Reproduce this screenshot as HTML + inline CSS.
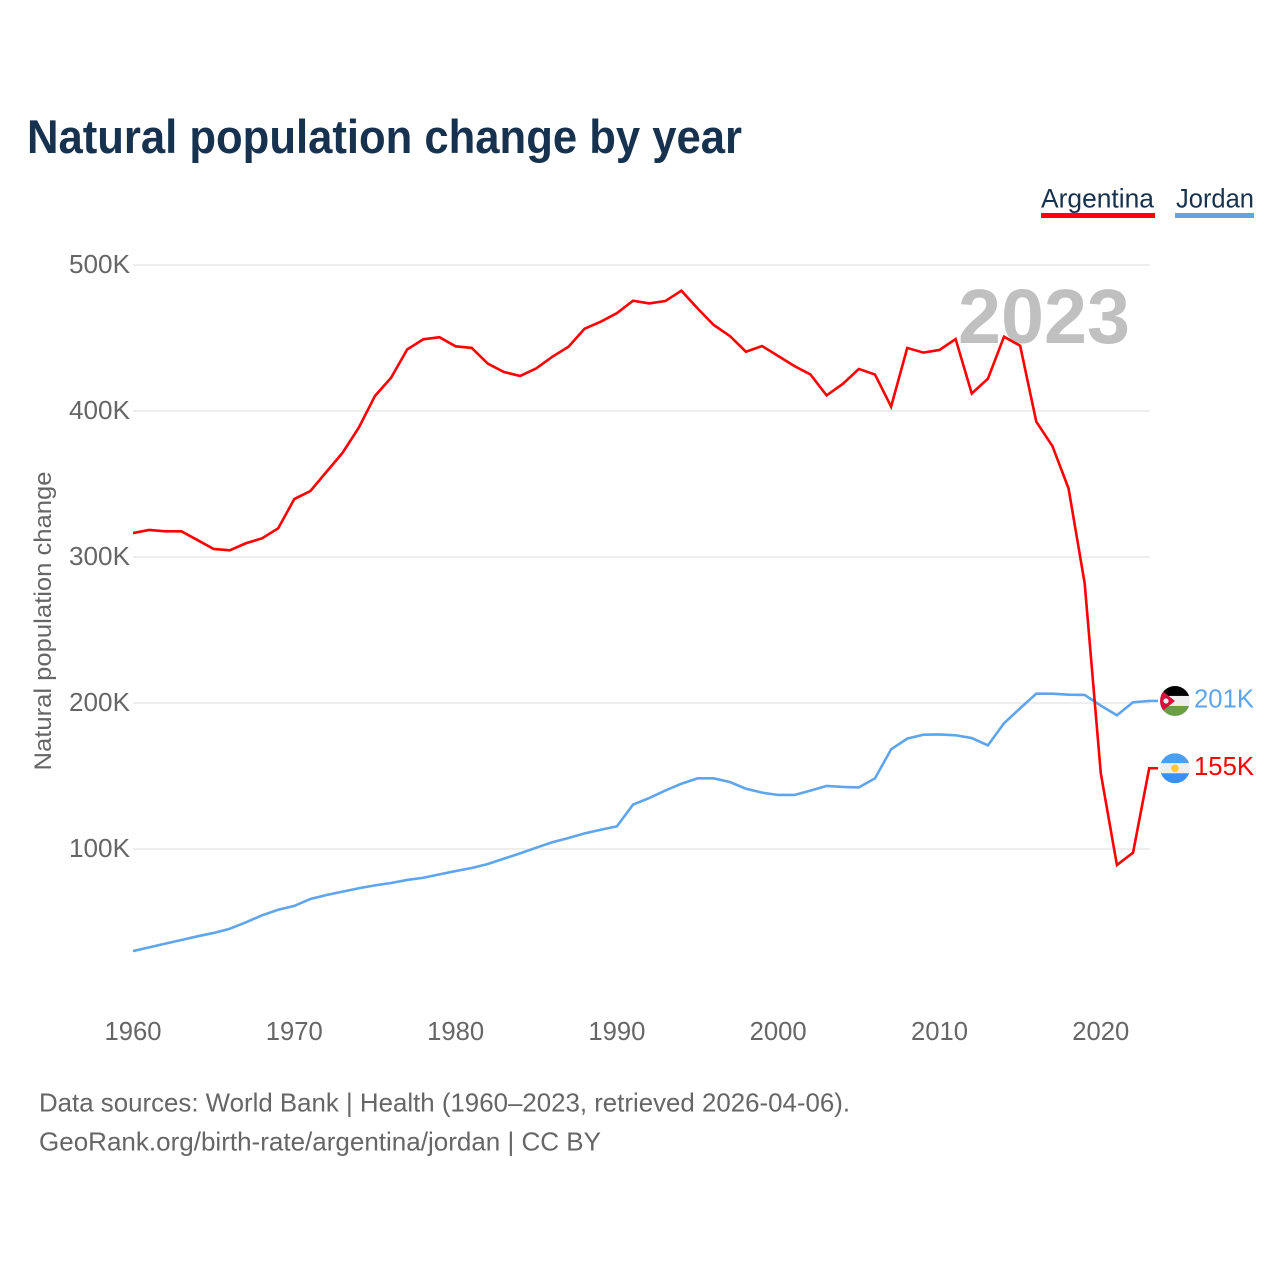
<!DOCTYPE html>
<html lang="en">
<head>
<meta charset="utf-8">
<title>Natural population change by year</title>
<style>
html,body{margin:0;padding:0;background:#fff;width:1280px;height:1280px;overflow:hidden}
svg{display:block}
text{font-family:"Liberation Sans",sans-serif}
</style>
</head>
<body>
<svg id="chart" xmlns="http://www.w3.org/2000/svg" width="1280" height="1280" viewBox="0 0 1280 1280">
  <rect width="1280" height="1280" fill="#ffffff"/>
  <text x="27" y="153" font-size="47" font-weight="700" fill="#17324f" textLength="715" lengthAdjust="spacingAndGlyphs">Natural population change by year</text>

  <g>
    <text x="1041" y="207.5" font-size="26.5" fill="#17324f" textLength="113" lengthAdjust="spacingAndGlyphs">Argentina</text>
    <rect x="1041" y="213" width="114" height="5" fill="#ff0000"/>
  </g>
  <g>
    <text x="1176" y="207.5" font-size="26.5" fill="#17324f" textLength="78" lengthAdjust="spacingAndGlyphs">Jordan</text>
    <rect x="1175" y="213" width="79" height="5" fill="#5fa5ec"/>
  </g>

  <text transform="translate(51 770.5) rotate(-90)" font-size="24.5" fill="#666666" textLength="299" lengthAdjust="spacingAndGlyphs">Natural population change</text>

  <g id="grid"></g>
  <g id="yticks"></g>
  <g id="xticks"></g>

  <text x="1130" y="343" font-size="77" font-weight="700" fill="#c0c0c0" text-anchor="end" textLength="172" lengthAdjust="spacingAndGlyphs">2023</text>

  <path id="line-jordan" fill="none" stroke="#5fa5ec" stroke-width="2.6" stroke-linejoin="miter"/>
  <path id="line-argentina" fill="none" stroke="#ff0000" stroke-width="2.6" stroke-linejoin="miter"/>

  <defs>
    <clipPath id="flag-clip"><circle cx="0" cy="0" r="15"/></clipPath>
  </defs>

  <g id="flag-jordan">
    <g clip-path="url(#flag-clip)">
      <rect x="-15" y="-15" width="30" height="10" fill="#000000"/>
      <rect x="-15" y="-5" width="30" height="10" fill="#eeeeee"/>
      <rect x="-15" y="5" width="30" height="10" fill="#6a9e45"/>
      <polygon points="-15,-12 0,0 -15,12" fill="#d80e3c"/>
      <circle cx="-9" cy="0" r="2.6" fill="#f4f4f4"/>
    </g>
  </g>
  <g id="flag-argentina">
    <g clip-path="url(#flag-clip)">
      <rect x="-15" y="-15" width="30" height="10" fill="#4b9ff2"/>
      <rect x="-15" y="-5" width="30" height="10" fill="#eeeeee"/>
      <rect x="-15" y="5" width="30" height="10" fill="#3a90f2"/>
      <circle cx="0" cy="0" r="3.8" fill="#fcc92f"/>
    </g>
  </g>
  <text id="value-jordan" x="1254" font-size="26" fill="#5fa5ec" text-anchor="end" textLength="60" lengthAdjust="spacingAndGlyphs"></text>
  <text id="value-argentina" x="1254" font-size="26" fill="#ff0000" text-anchor="end" textLength="60" lengthAdjust="spacingAndGlyphs"></text>

  <text x="39" y="1111.5" font-size="26" fill="#666666" textLength="811" lengthAdjust="spacingAndGlyphs">Data sources: World Bank | Health (1960–2023, retrieved 2026-04-06).</text>
  <a><text x="39" y="1150.5" font-size="26" fill="#666666" textLength="562" lengthAdjust="spacingAndGlyphs">GeoRank.org/birth-rate/argentina/jordan | CC BY</text></a>
</svg>

<script>
const years = [1960,1961,1962,1963,1964,1965,1966,1967,1968,1969,1970,1971,1972,1973,1974,1975,1976,1977,1978,1979,1980,1981,1982,1983,1984,1985,1986,1987,1988,1989,1990,1991,1992,1993,1994,1995,1996,1997,1998,1999,2000,2001,2002,2003,2004,2005,2006,2007,2008,2009,2010,2011,2012,2013,2014,2015,2016,2017,2018,2019,2020,2021,2022,2023];
const argentinaValues = [316.4,318.5,317.6,317.6,311.6,305.5,304.6,309.4,312.8,319.6,339.7,345.2,358.4,371.5,388.6,410.3,422.8,442.2,449.1,450.5,444.3,443.2,432.4,426.7,424,429.2,437.2,444,456.4,461.2,467,475.5,473.7,475.3,482.4,470.3,458.9,451.4,440.6,444.5,437.7,430.8,425,410.7,418.5,428.8,425,403,443.2,440,441.8,449.3,412,422.1,450.9,444.7,392.7,376,347,282,151.8,89,97.5,155.3];
const jordanValues = [30.1,32.6,35.2,37.7,40.2,42.5,45.4,49.8,54.6,58.4,61,65.8,68.5,70.8,73.1,75.1,76.7,78.8,80.3,82.6,84.9,87,89.7,93.4,97,100.9,104.6,107.5,110.7,113.2,115.5,130.4,134.9,140,144.7,148.4,148.4,145.9,141.3,138.6,137,137,140,143.2,142.5,142.2,148.4,168.3,175.6,178.3,178.5,177.9,176,171,186.1,196.4,206.4,206.4,205.7,205.5,198.2,191.6,200.5,201.4];
const yTickValues = [100,200,300,400,500];
const yTickLabels = ["100K","200K","300K","400K","500K"];
const xTickValues = [1960,1970,1980,1990,2000,2010,2020];
const xTickLabels = ["1960","1970","1980","1990","2000","2010","2020"];

const SVGNS = "http://www.w3.org/2000/svg";
function xScale(year) { return 133 + (year - 1960) * 16.13; }
function yScale(value) { return 995 - value * 1.46; }

const grid = document.getElementById("grid");
const yticks = document.getElementById("yticks");
const xticks = document.getElementById("xticks");

yTickValues.forEach(function (v, i) {
  const line = document.createElementNS(SVGNS, "line");
  
  
  line.setAttribute("x1", 133);
  line.setAttribute("x2", 1150);
  line.setAttribute("y1", yScale(v));
  line.setAttribute("y2", yScale(v));
  line.setAttribute("stroke", "#eeeeee");
  line.setAttribute("stroke-width", "2");
  grid.appendChild(line);

  const label = document.createElementNS(SVGNS, "text");
  
  
  label.setAttribute("x", 130);
  label.setAttribute("y", yScale(v) + 8);
  label.setAttribute("font-size", "25.5");
  label.setAttribute("fill", "#666666");
  label.setAttribute("text-anchor", "end");
  label.setAttribute("textLength", "61");
  label.setAttribute("lengthAdjust", "spacingAndGlyphs");
  label.textContent = yTickLabels[i];
  yticks.appendChild(label);
});

xTickValues.forEach(function (v, i) {
  const label = document.createElementNS(SVGNS, "text");
  
  
  label.setAttribute("x", xScale(v));
  label.setAttribute("y", 1040);
  label.setAttribute("font-size", "25.5");
  label.setAttribute("fill", "#666666");
  label.setAttribute("text-anchor", "middle");
  label.setAttribute("textLength", "57");
  label.setAttribute("lengthAdjust", "spacingAndGlyphs");
  label.textContent = xTickLabels[i];
  xticks.appendChild(label);
});

function linePath(values, connectorEnd) {
  let d = values.map(function (v, i) {
    return (i ? "L" : "M") + xScale(years[i]).toFixed(2) + " " + yScale(v).toFixed(2);
  }).join(" ");
  d += " L" + connectorEnd + " " + yScale(values[values.length - 1]).toFixed(2);
  return d;
}
document.getElementById("line-argentina").setAttribute("d", linePath(argentinaValues, 1158));
document.getElementById("line-jordan").setAttribute("d", linePath(jordanValues, 1158));

function placeEnd(values, flagId, valueId) {
  const last = values[values.length - 1];
  const y = yScale(last);
  document.getElementById(flagId).setAttribute("transform", "translate(1175 " + y.toFixed(2) + ")");
  const t = document.getElementById(valueId);
  t.setAttribute("y", (y + 6.5).toFixed(2));
  t.textContent = Math.round(last) + "K";
}
placeEnd(jordanValues, "flag-jordan", "value-jordan");
placeEnd(argentinaValues, "flag-argentina", "value-argentina");
</script>
</body>
</html>
